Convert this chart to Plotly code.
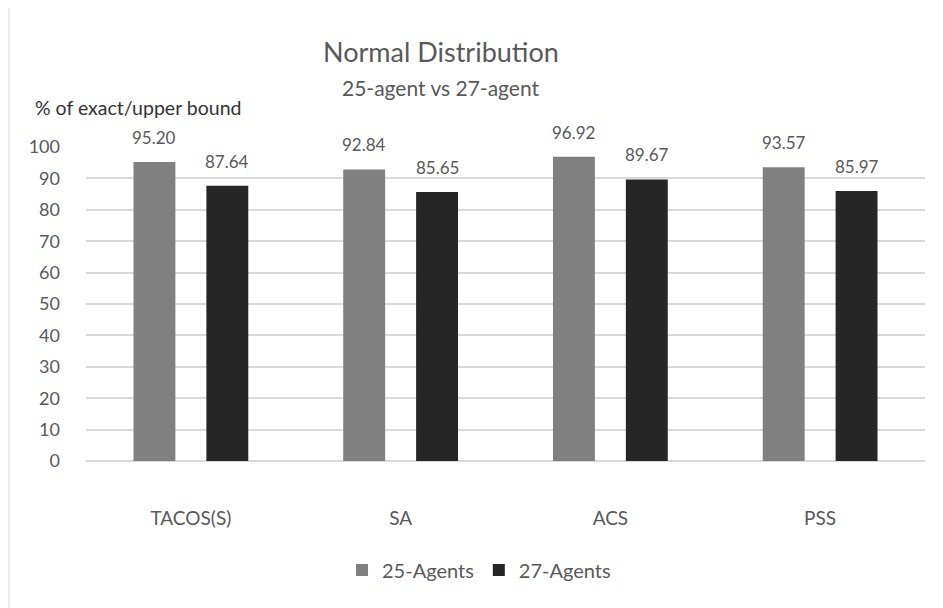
import plotly.graph_objects as go

categories = ["TACOS(S)", "SA", "ACS", "PSS"]
agents25 = [95.20, 92.84, 96.92, 93.57]
agents27 = [87.64, 85.65, 89.67, 85.97]
series_names = ["25-Agents", "27-Agents"]
colors = ["#808080", "#262626"]

FONT = "Lato"
TXT = "#595959"

fig = go.Figure()
for name, vals, col in zip(series_names, [agents25, agents27], colors):
    fig.add_trace(go.Bar(x=categories, y=vals, name=name, marker_color=col,
                         marker_line_width=0, cliponaxis=False))

annotations = []
for vals, shift in [(agents25, -36.5), (agents27, 36.5)]:
    for c, v in zip(categories, vals):
        annotations.append(dict(x=c, y=v, xref="x", yref="y", text=f"{v:.2f}",
                                showarrow=False, xshift=shift, yshift=12,
                                yanchor="bottom", font=dict(family=FONT, size=17, color=TXT)))

annotations += [
    dict(text="Normal Distribution", xref="paper", yref="paper", x=(441-86)/839, y=(460-51)/314,
         xanchor="center", yanchor="middle", showarrow=False,
         font=dict(family=FONT, size=27, color=TXT)),
    dict(text="25-agent vs 27-agent", xref="paper", yref="paper", x=(441-86)/839, y=(460-86)/314,
         xanchor="center", yanchor="middle", showarrow=False,
         font=dict(family=FONT, size=21, color=TXT)),
    dict(text="% of exact/upper bound", xref="paper", yref="paper", x=(33-86)/839, y=(460-106)/314,
         xanchor="left", yanchor="middle", showarrow=False,
         font=dict(family=FONT, size=19.5, color="#333333")),
]

fig.update_layout(
    width=943, height=608,
    margin=dict(l=78, r=26, t=139, b=155),
    paper_bgcolor="white", plot_bgcolor="white",
    barmode="group", bargap=0.305, bargroupgap=0.425,
    font=dict(family=FONT, color=TXT),
    annotations=annotations,
    legend=dict(orientation="h", x=(479-86)/839, xanchor="center", y=(460-569)/314, yanchor="middle",
                font=dict(family=FONT, size=20, color=TXT), itemwidth=30, traceorder="normal"),
    shapes=[dict(type="rect", xref="paper", yref="paper",
                 x0=(9-86)/839, x1=(960-86)/839, y0=(460-630)/314, y1=(460-5)/314,
                 line=dict(color="#d9d9d9", width=1), fillcolor="rgba(0,0,0,0)", layer="below")],
)
fig.update_xaxes(showgrid=False, showline=False, ticks="", ticklabelstandoff=44,
                 tickfont=dict(family=FONT, size=19, color=TXT))
fig.update_yaxes(range=[0, 100], dtick=10, showgrid=True, gridcolor="#d9d9d9", gridwidth=1.5,
                 zeroline=True, zerolinecolor="#d9d9d9", zerolinewidth=1.5, showline=False,
                 ticks="", ticklabelstandoff=25, tickfont=dict(family=FONT, size=18, color=TXT))

fig.write_html("out.html")
